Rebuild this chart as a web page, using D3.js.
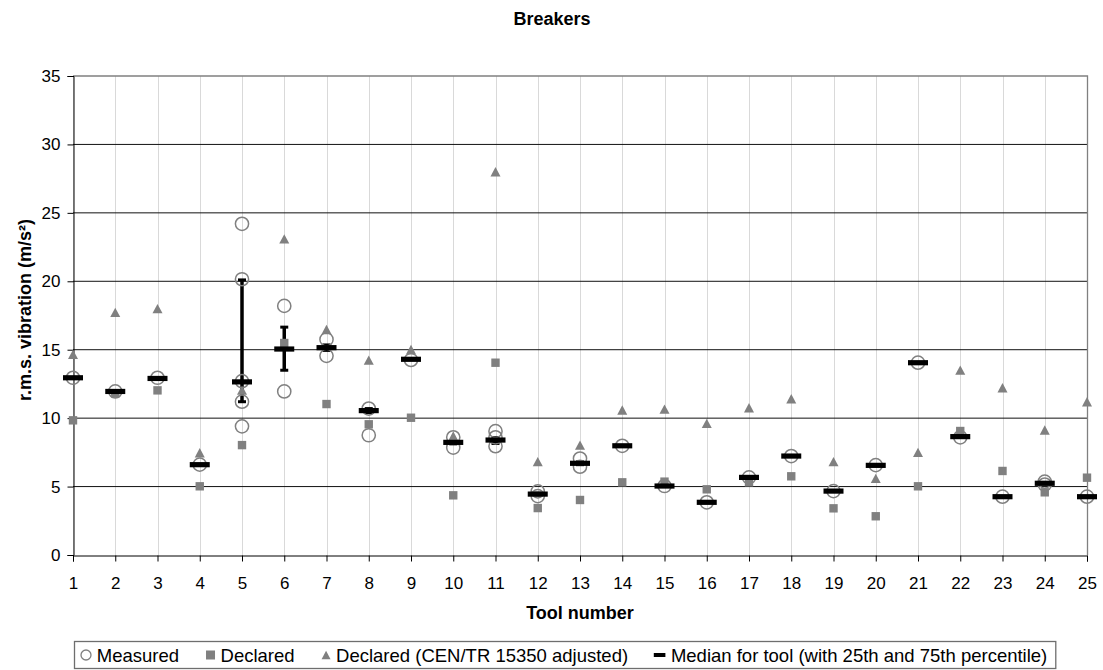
<!DOCTYPE html>
<html>
<head>
<meta charset="utf-8">
<script src="https://cdn.jsdelivr.net/npm/d3@7"></script>
<style>
  html, body { margin: 0; padding: 0; background: #fff; }
  svg { display: block; font-family: "Liberation Sans", Arial, sans-serif; }
</style>
</head>
<body>
<svg id="chart" width="1103" height="670"></svg>
<script>
// ---------------- DATA ----------------
const title = "Breakers";
const xTitle = "Tool number";
const yTitle = "r.m.s. vibration (m/s²)";
const tools = d3.range(1, 26);
const yTicks = [0, 5, 10, 15, 20, 25, 30, 35];

// Measured values per tool (open circles)
const measured = [
  [12.95], [11.95], [12.95], [6.6],
  [24.2, 20.15, 12.7, 11.2, 9.4],
  [18.2, 11.95],
  [15.75, 14.55],
  [10.7, 8.75],
  [14.25],
  [8.6, 7.85],
  [9.05, 8.6, 7.95],
  [4.65, 4.3],
  [7.05, 6.45],
  [7.98], [5.04], [3.85], [5.67], [7.23], [4.67], [6.57], [14.05], [8.6], [4.26],
  [5.36, 5.15],
  [4.26]
];
// Declared values (squares)
const declared = [9.84, 11.8, 12.03, 5.02, 8.03, 15.49, 11.03, 9.55, 10.03, 4.36, 14.05, 3.43, 4.02,
  5.31, 5.36, 4.8, 5.31, 5.75, 3.41, 2.83, 5.02, 9.06, 6.14, 4.58, 5.65];
// Declared (CEN/TR 15350 adjusted) values (triangles)
const declaredAdj = [14.66, 17.73, 18.0, 7.47, 12.05, 23.1, 16.48, 14.24, 15.02, 8.69, 28.0, 6.82, 8.03,
  10.59, 10.66, 9.62, 10.76, 11.42, 6.82, 5.6, 7.5, 13.51, 12.22, 9.13, 11.2];
// Median for tool, with 25th and 75th percentile
const median = [12.95, 11.95, 12.9, 6.6, 12.65, 15.05, 15.15, 10.55, 14.3, 8.23, 8.4, 4.45, 6.7,
  7.98, 5.04, 3.85, 5.67, 7.23, 4.67, 6.55, 14.05, 8.65, 4.26, 5.24, 4.26];
const p25 = [12.95, 11.95, 12.9, 6.6, 11.2, 13.5, 14.95, 10.4, 14.3, 8.12, 8.15, 4.38, 6.6,
  7.98, 5.04, 3.85, 5.67, 7.23, 4.67, 6.55, 14.05, 8.65, 4.26, 5.2, 4.26];
const p75 = [12.95, 11.95, 12.9, 6.6, 20.1, 16.65, 15.35, 10.7, 14.3, 8.32, 8.57, 4.52, 6.8,
  7.98, 5.04, 3.85, 5.67, 7.23, 4.67, 6.55, 14.05, 8.65, 4.26, 5.3, 4.26];
const legendLabels = ["Measured", "Declared", "Declared (CEN/TR 15350 adjusted)",
  "Median for tool (with 25th and 75th percentile)"];

// ---------------- LAYOUT ----------------
const svg = d3.select("#chart");
const L = 73, R = 1087, T = 76, B = 555;
const x = d3.scaleLinear().domain([1, 25]).range([L, R]);
const y = d3.scaleLinear().domain([0, 35]).range([B, T]);
const grey = "#808080";

// vertical light gridlines
svg.append("g").selectAll("line").data(tools).join("line")
  .attr("x1", d => Math.round(x(d)) + 0.5).attr("x2", d => Math.round(x(d)) + 0.5)
  .attr("y1", T).attr("y2", B)
  .attr("stroke", "#d9d9d9").attr("stroke-width", 1);

// horizontal gridlines
svg.append("g").selectAll("line").data(yTicks.filter(d => d > 0 && d < 35)).join("line")
  .attr("x1", L).attr("x2", R)
  .attr("y1", d => y(d)).attr("y2", d => y(d))
  .attr("stroke", "#111").attr("stroke-width", 1);

// top and right border
svg.append("path")
  .attr("d", `M${L},${T}H${R + 0.5}V${B}`)
  .attr("fill", "none").attr("stroke", grey).attr("stroke-width", 1.3);

// axes
const yAxis = d3.axisLeft(y).tickValues(yTicks).tickSize(6).tickPadding(7);
const gy = svg.append("g").attr("transform", `translate(${L + 0.5},0)`).call(yAxis);
gy.select(".domain").attr("stroke", "#000");
gy.selectAll(".tick line").attr("stroke", "#000");
gy.selectAll(".tick text").attr("font-size", 17).attr("fill", "#000")
  .attr("font-family", "Liberation Sans, Arial, sans-serif");

const xAxis = d3.axisBottom(x).tickValues(tools).tickSize(6).tickPadding(15).tickFormat(d3.format("d"));
const gx = svg.append("g").attr("transform", `translate(0,${B + 0.5})`).call(xAxis);
gx.select(".domain").attr("stroke", "#000");
gx.selectAll(".tick line").attr("stroke", "#000");
gx.selectAll(".tick text").attr("font-size", 17).attr("fill", "#000")
  .attr("font-family", "Liberation Sans, Arial, sans-serif");

// titles
svg.append("text").attr("x", 552).attr("y", 25).attr("text-anchor", "middle")
  .attr("font-size", 18).attr("font-weight", "bold").text(title);
svg.append("text").attr("x", (L + R) / 2).attr("y", 619).attr("text-anchor", "middle")
  .attr("font-size", 18).attr("font-weight", "bold").text(xTitle);
svg.append("text").attr("transform", `translate(31,310) rotate(-90)`).attr("text-anchor", "middle")
  .attr("font-size", 18).attr("font-weight", "bold").text(yTitle);

// ---------------- MARKS ----------------
const ptsMeasured = [];
measured.forEach((arr, i) => arr.forEach(v => ptsMeasured.push({ t: tools[i], v })));

// error bars (25th–75th percentile)
const eb = svg.append("g");
tools.forEach((t, i) => {
  if (p75[i] - p25[i] <= 0) return;
  const cx = x(t);
  eb.append("line").attr("x1", cx).attr("x2", cx).attr("y1", y(p25[i])).attr("y2", y(p75[i]))
    .attr("stroke", "#000").attr("stroke-width", 3.5);
  [p25[i], p75[i]].forEach(v => {
    eb.append("line").attr("x1", cx - 4).attr("x2", cx + 4).attr("y1", y(v)).attr("y2", y(v))
      .attr("stroke", "#000").attr("stroke-width", 3);
  });
});

// measured circles
svg.append("g").selectAll("circle").data(ptsMeasured).join("circle")
  .attr("cx", d => x(d.t)).attr("cy", d => y(d.v)).attr("r", 6.6)
  .attr("fill", "none").attr("stroke", grey).attr("stroke-width", 1.5);

// declared squares
const sq = 8.4;
svg.append("g").selectAll("rect").data(declared).join("rect")
  .attr("x", (d, i) => x(tools[i]) - sq / 2).attr("y", d => y(d) - sq / 2)
  .attr("width", sq).attr("height", sq).attr("fill", grey);

// declared adjusted triangles
const triPath = (cx, cy, w, h) => `M${cx},${cy - h / 2}L${cx + w / 2},${cy + h / 2}L${cx - w / 2},${cy + h / 2}Z`;
svg.append("g").selectAll("path").data(declaredAdj).join("path")
  .attr("d", (d, i) => triPath(x(tools[i]), y(d), 10, 9.4)).attr("fill", grey);

// medians
svg.append("g").selectAll("rect").data(median).join("rect")
  .attr("x", (d, i) => x(tools[i]) - 10).attr("y", d => y(d) - 2.6)
  .attr("width", 20).attr("height", 5.2).attr("fill", "#000");

// ---------------- LEGEND ----------------
const lg = svg.append("g");
const ly = 655, lfs = 18.5;
const box = lg.append("rect").attr("fill", "#fff").attr("stroke", "#6e6e6e").attr("stroke-width", 1.3);
let cx = 86;
const texts = [];
legendLabels.forEach((lab, i) => {
  const symW = i === 3 ? 11.6 : (i === 0 ? 10.5 : 9);
  const sc = cx;
  if (i === 0) lg.append("circle").attr("cx", sc).attr("cy", ly).attr("r", 5).attr("fill", "none")
    .attr("stroke", grey).attr("stroke-width", 1.3);
  if (i === 1) lg.append("rect").attr("x", sc - 4.5).attr("y", ly - 4.5).attr("width", 9).attr("height", 9).attr("fill", grey);
  if (i === 2) lg.append("path").attr("d", triPath(sc, ly, 9, 8.5)).attr("fill", grey);
  if (i === 3) lg.append("rect").attr("x", sc - 5.8).attr("y", ly - 2).attr("width", 11.6).attr("height", 4).attr("fill", "#000");
  const tx = lg.append("text").attr("x", sc + symW / 2 + 5.5).attr("y", ly + 6.5)
    .attr("font-size", lfs).attr("fill", "#000").text(lab);
  const w = tx.node().getComputedTextLength();
  texts.push(sc + symW / 2 + 5.5 + w);
  cx = sc + symW / 2 + 5.5 + w + 27 + 4.5;
});
const bx0 = 74, bx1 = texts[texts.length - 1] + 8;
box.attr("x", bx0 + 0.5).attr("y", 641.5).attr("width", bx1 - bx0).attr("height", 27);
</script>
</body>
</html>
